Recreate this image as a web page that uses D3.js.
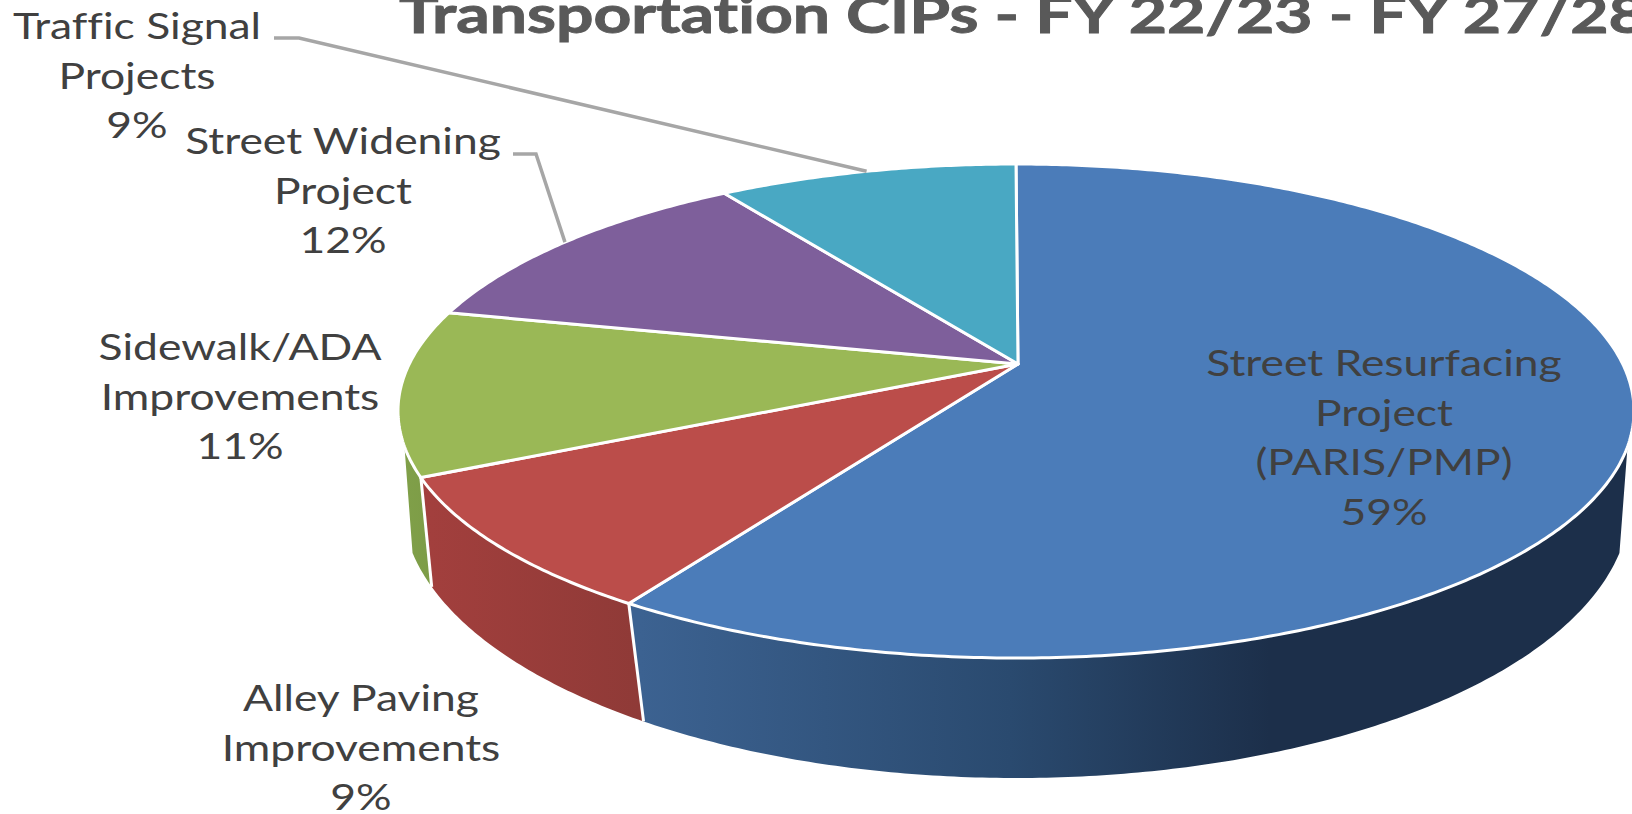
<!DOCTYPE html>
<html>
<head>
<meta charset="utf-8">
<script src="https://cdn.jsdelivr.net/npm/d3@7"></script>
<style>
  html, body { margin: 0; padding: 0; background: #fff; overflow: hidden; }
  svg { display: block; }
  text { font-family: Lato, "Open Sans", sans-serif; font-variant-ligatures: none; }
</style>
</head>
<body>
<svg id="chart"></svg>
<script>
const title = "Transportation CIPs - FY 22/23 - FY 27/28";
const categories = [
  "Street Resurfacing Project (PARIS/PMP)",
  "Alley Paving Improvements",
  "Sidewalk/ADA Improvements",
  "Street Widening Project",
  "Traffic Signal Projects",
];
// slice sizes, the printed labels are the rounded ones
const shares = [59, 8.8, 10.8, 12, 9.4];
const percentLabels = ["59%", "9%", "11%", "12%", "9%"];
const labelLines = [
  ["Street Resurfacing", "Project", "(PARIS/PMP)"],
  ["Alley Paving", "Improvements"],
  ["Sidewalk/ADA", "Improvements"],
  ["Street Widening", "Project"],
  ["Traffic Signal", "Projects"],
];
const topColors = ["#4b7cb9", "#bb4d4a", "#9ab856", "#7e5f9b", "#49a8c3"];

const width = 1632;
const height = 814;

// the pie is drawn in perspective, so the wedge tip sits above the ellipse centre
const topFace = { cx: 1016, cy: 411, rx: 618, ry: 247, tilt: 0.19 };
const bottomFace = { cx: 1016, cy: 502, rx: 614, ry: 276, tilt: 0.15 };
const wallFrom = (109 * Math.PI) / 180;
const wallTo = (251 * Math.PI) / 180;

const labelAnchors = [
  { x: 1384, y: 376 },
  { x: 361, y: 711 },
  { x: 240, y: 360 },
  { x: 343, y: 154 },
  { x: 137, y: 39 },
];
const lineHeight = 49.5;
const labelStretch = 1.2;
const titleStretch = 1.27;

function project(angle, face) {
  const u = Math.sin(angle);
  const v = Math.cos(angle);
  const d = 1 + face.tilt * v;
  const vv = (v + face.tilt) / d;
  const uu = (u * Math.sqrt(1 - face.tilt * face.tilt)) / d;
  return [face.cx + face.rx * uu, face.cy - face.ry * vv];
}

function arcPoints(a0, a1, face) {
  const n = Math.max(2, Math.ceil(Math.abs(a1 - a0) / 0.01));
  return d3.range(n + 1).map((i) => project(a0 + ((a1 - a0) * i) / n, face));
}

const line = d3.line();
const svg = d3.select("#chart").attr("width", width).attr("height", height);

const slices = d3.pie().sort(null).value((d) => d)(shares);
const color = d3.scaleOrdinal().domain(categories).range(topColors);

// side wall shading
const defs = svg.append("defs");
function wallGradient(id, stops) {
  const g = defs
    .append("linearGradient")
    .attr("id", id)
    .attr("gradientUnits", "userSpaceOnUse")
    .attr("x1", 0)
    .attr("x2", width)
    .attr("y1", 0)
    .attr("y2", 0);
  stops.forEach((s) => {
    g.append("stop").attr("offset", s[0] / width).attr("stop-color", s[1]);
  });
}
wallGradient("wall0", [[640, "#3c6291"], [1010, "#2a4a6f"], [1270, "#1c2f4a"]]);
wallGradient("wall1", [[430, "#a23f3d"], [640, "#8f3a37"]]);
wallGradient("wall2", [[400, "#80a049"], [440, "#7c9b46"]]);

const walls = svg.append("g");
slices.forEach((s, i) => {
  const a0 = Math.max(s.startAngle, wallFrom);
  const a1 = Math.min(s.endAngle, wallTo);
  if (a1 <= a0) return;
  const pts = arcPoints(a0, a1, topFace).concat(arcPoints(a1, a0, bottomFace));
  walls
    .append("path")
    .attr("d", line(pts) + "Z")
    .attr("fill", `url(#wall${i})`);
});

// white seams between the walls
[slices[0].endAngle, slices[1].endAngle].forEach((a) => {
  walls
    .append("path")
    .attr("d", line([project(a, topFace), project(a, bottomFace)]))
    .attr("stroke", "#fff")
    .attr("stroke-width", 3)
    .attr("fill", "none");
});

// top face
const tip = [topFace.cx + 2, topFace.cy - topFace.ry * topFace.tilt];
svg
  .append("g")
  .selectAll("path")
  .data(slices)
  .join("path")
  .attr("d", (d) => line([tip].concat(arcPoints(d.startAngle, d.endAngle, topFace))) + "Z")
  .attr("fill", (d, i) => color(categories[i]))
  .attr("stroke", "#fff")
  .attr("stroke-width", 3)
  .attr("stroke-linejoin", "round");

// leader lines for the two back slices
const leaderStarts = [
  { slice: 4, from: [274, 38], elbow: [299, 38] },
  { slice: 3, from: [513, 154], elbow: [536, 154] },
];
svg
  .append("g")
  .selectAll("path")
  .data(leaderStarts)
  .join("path")
  .attr("d", (d) => {
    const s = slices[d.slice];
    return line([d.from, d.elbow, project((s.startAngle + s.endAngle) / 2, topFace)]);
  })
  .attr("fill", "none")
  .attr("stroke", "#a6a6a6")
  .attr("stroke-width", 3.5);

// data labels, one text per line because the font is stretched sideways
const labelGroup = svg.append("g");
labelLines.forEach((lines, i) => {
  lines.concat(percentLabels[i]).forEach((txt, k) => {
    labelGroup
      .append("text")
      .attr("text-anchor", "middle")
      .attr("font-size", 37)
      .attr("fill", "#404040")
      .attr(
        "transform",
        `translate(${labelAnchors[i].x},${labelAnchors[i].y + k * lineHeight}) scale(${labelStretch},1)`
      )
      .text(txt);
  });
});

// the source title is heavier than Lato bold, a thin stroke brings it closer
svg
  .append("text")
  .attr("font-size", 52)
  .attr("font-weight", 700)
  .attr("fill", "#595959")
  .attr("stroke", "#595959")
  .attr("stroke-width", 0.9)
  .attr("transform", `translate(399,33) scale(${titleStretch},1)`)
  .text(title);
</script>
</body>
</html>
